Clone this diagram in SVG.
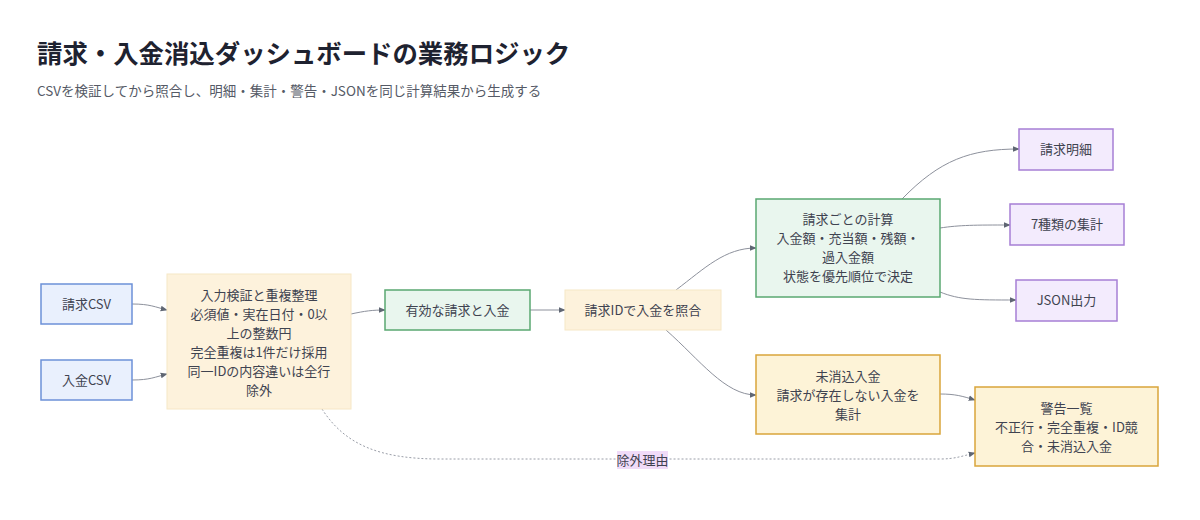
<svg xmlns="http://www.w3.org/2000/svg" width="1200" height="520" viewBox="0 0 1200 520">
<defs>
<marker id="arr" viewBox="0 0 10 10" refX="9" refY="5" markerWidth="7" markerHeight="7" orient="auto" markerUnits="userSpaceOnUse">
<path d="M0,1 L10,5 L0,9 z" fill="#5f6673"/>
</marker>
</defs>
<style>
text{font-family:"Noto Sans CJK JP","Noto Sans",sans-serif;}
.t{font-size:13px;fill:#3f4350;text-anchor:middle;}
.blue{fill:#e9f0fd;stroke:#6c91d8;stroke-width:1.5;}
.peach{fill:#fdf2dc;stroke:#f6e7c6;stroke-width:1;}
.green{fill:#e9f6ee;stroke:#5aa871;stroke-width:1.5;}
.purple{fill:#f3ebfd;stroke:#a67fd5;stroke-width:1.5;}
.yellow{fill:#fdf3d7;stroke:#d9a53b;stroke-width:1.5;}
.e{fill:none;stroke:#8d919c;stroke-width:1;}
.d{fill:none;stroke:#9a9ea8;stroke-width:1;stroke-dasharray:2 2;}
</style>
<rect width="1200" height="520" fill="#ffffff"/>
<text x="37" y="63" style="font-size:25.4px;font-weight:700;fill:#1e2230;">請求・入金消込ダッシュボードの業務ロジック</text>
<text x="37" y="96" style="font-size:13.5px;fill:#555a66;">CSVを検証してから照合し、明細・集計・警告・JSONを同じ計算結果から生成する</text>

<g id="connectors">
<path class="e" d="M132,304 C150,304 155,307 167,310" marker-end="url(#arr)"/>
<path class="e" d="M132,380 C150,380 155,377 167,374" marker-end="url(#arr)"/>
<path class="e" d="M351,314 C365,311 372,310 385,310" marker-end="url(#arr)"/>
<path class="e" d="M530,310 L565,310" marker-end="url(#arr)"/>
<path class="e" d="M676,290 C705,268 725,248 756,248" marker-end="url(#arr)"/>
<path class="e" d="M666,330 C700,360 725,395 756,395" marker-end="url(#arr)"/>
<path class="e" d="M902,199 C940,160 970,149 1019,149" marker-end="url(#arr)"/>
<path class="e" d="M940,228 C960,225 975,225 1010,225" marker-end="url(#arr)"/>
<path class="e" d="M940,292 C960,300 975,300 1016,300" marker-end="url(#arr)"/>
<path class="e" d="M940,394 C955,394 962,396 975,400" marker-end="url(#arr)"/>
<path class="d" d="M322,409 C345,445 380,459 440,459 L940,459 C955,459 962,456 975,453" marker-end="url(#arr)"/>
<rect x="617" y="451" width="51" height="18" fill="#f0dbf8"/>
<text class="t" x="642.5" y="465">除外理由</text>
</g>

<g id="n-invoice-csv"><rect class="blue" x="41" y="284" width="91" height="40"/><text class="t" x="86.5" y="309">請求CSV</text></g>
<g id="n-payment-csv"><rect class="blue" x="41" y="360" width="91" height="40"/><text class="t" x="86.5" y="385">入金CSV</text></g>
<g id="n-validate"><rect class="peach" x="167" y="274" width="184" height="135"/>
<text class="t" x="259" y="300">入力検証と重複整理</text>
<text class="t" x="259" y="319">必須値・実在日付・0以</text>
<text class="t" x="259" y="338">上の整数円</text>
<text class="t" x="259" y="357">完全重複は1件だけ採用</text>
<text class="t" x="259" y="376">同一IDの内容違いは全行</text>
<text class="t" x="259" y="395">除外</text></g>
<g id="n-valid"><rect class="green" x="385" y="290" width="145" height="40"/><text class="t" x="457.5" y="315">有効な請求と入金</text></g>
<g id="n-match"><rect class="peach" x="565" y="290" width="156" height="40"/><text class="t" x="643" y="315">請求IDで入金を照合</text></g>
<g id="n-calc"><rect class="green" x="756" y="199" width="184" height="98"/>
<text class="t" x="848" y="224">請求ごとの計算</text>
<text class="t" x="848" y="243">入金額・充当額・残額・</text>
<text class="t" x="848" y="262">過入金額</text>
<text class="t" x="848" y="281">状態を優先順位で決定</text></g>
<g id="n-detail"><rect class="purple" x="1019" y="129" width="94" height="41"/><text class="t" x="1066" y="154">請求明細</text></g>
<g id="n-summary"><rect class="purple" x="1010" y="204" width="114" height="41"/><text class="t" x="1067" y="229">7種類の集計</text></g>
<g id="n-json"><rect class="purple" x="1016" y="280" width="101" height="41"/><text class="t" x="1066.5" y="305">JSON出力</text></g>
<g id="n-unmatched"><rect class="yellow" x="756" y="355" width="184" height="79"/>
<text class="t" x="848" y="381">未消込入金</text>
<text class="t" x="848" y="400">請求が存在しない入金を</text>
<text class="t" x="848" y="419">集計</text></g>
<g id="n-warnings"><rect class="yellow" x="975" y="387" width="183" height="79"/>
<text class="t" x="1066.5" y="413">警告一覧</text>
<text class="t" x="1066.5" y="432">不正行・完全重複・ID競</text>
<text class="t" x="1066.5" y="451">合・未消込入金</text></g>
</svg>
